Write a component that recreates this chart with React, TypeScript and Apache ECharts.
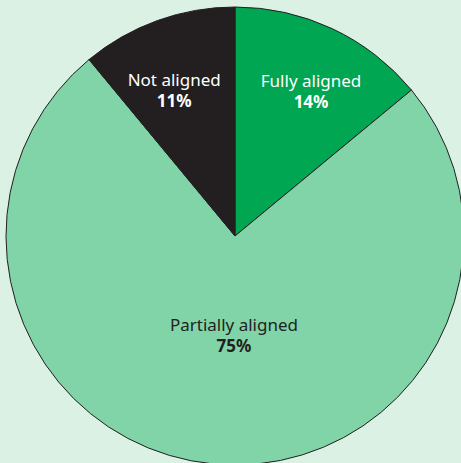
import React, { useEffect, useRef } from "react";
import * as echarts from "echarts";

const categories = ["Fully aligned", "Partially aligned", "Not aligned"];
const values = [14, 75, 11];
const sliceColors = ["#00a651", "#80d4a8", "#231f20"];
const labelColors = ["#ffffff", "#231f20", "#ffffff"];
const labelShift = [
  [26, -39],
  [10, -18],
  [-21, -35],
];

export default function App() {
  const ref = useRef<HTMLDivElement>(null);
  useEffect(() => {
    document.body.style.margin = "0";
    const chart = echarts.init(ref.current!, null, { renderer: "svg" });
    chart.setOption({
      animation: false,
      backgroundColor: "#daf1e4",
      series: [
        {
          type: "pie",
          center: [235, 236],
          radius: [0, 229],
          startAngle: 90,
          clockwise: true,
          silent: true,
          itemStyle: { borderColor: "#231f20", borderWidth: 1 },
          label: {
            show: true,
            position: "inside",
            fontFamily: "Noto Sans",
            fontSize: 17,
            lineHeight: 21,
            align: "center",
          },
          labelLine: { show: false },
          labelLayout: (p: any) => ({
            dx: labelShift[p.dataIndex][0],
            dy: labelShift[p.dataIndex][1],
          }),
          data: categories.map((name, i) => ({
            name,
            value: values[i],
            itemStyle: { color: sliceColors[i] },
            label: {
              formatter: "{n|{b}}\n{v|{c}%}",
              rich: {
                n: {
                  color: labelColors[i],
                  fontFamily: "Noto Sans",
                  fontSize: 17,
                  lineHeight: 21,
                  align: "center",
                },
                v: {
                  color: labelColors[i],
                  fontFamily: "Noto Sans",
                  fontSize: 17,
                  fontWeight: "bold",
                  lineHeight: 21,
                  align: "center",
                },
              },
            },
          })),
        },
      ],
    });
    return () => chart.dispose();
  }, []);
  return <div ref={ref} style={{ width: 461, height: 463 }} />;
}
